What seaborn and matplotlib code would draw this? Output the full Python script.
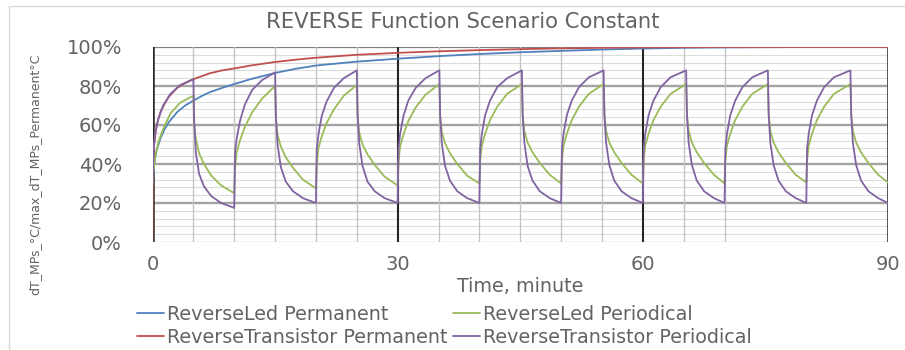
import matplotlib
matplotlib.use("Agg")
import matplotlib.pyplot as plt
from matplotlib.lines import Line2D
from matplotlib.patches import Rectangle
import seaborn as sns

# ---------------------------------------------------------------- data
title = "REVERSE Function Scenario Constant"
x_label = "Time, minute"
y_label = "dT_MPs_°C/max_dT_MPs_Permanent°C"

x_ticks = [0, 30, 60, 90]
x_tick_labels = ["0", "30", "60", "90"]
y_ticks = [0, 20, 40, 60, 80, 100]
y_tick_labels = ["0%", "20%", "40%", "60%", "80%", "100%"]

series_names = ["ReverseLed Permanent", "ReverseLed Periodical",
                "ReverseTransistor Permanent", "ReverseTransistor Periodical"]
series_colors = ["#4F81BD", "#9BBB59", "#C0504D", "#8064A2"]

# permanent (continuous) excitation
permanent_minutes = [0, 0.05, 0.2, 0.5, 1, 1.5, 2, 3, 4, 5, 6, 7, 8.5, 10, 12,
                     15, 17.5, 20, 25, 30, 35, 40, 45, 50, 55, 60, 65, 70, 80, 90]
led_permanent = [28, 32, 40, 47, 53.5, 58, 61.5, 66.5, 70, 72.5, 74.8, 76.8, 79,
                 81, 83.5, 86.7, 88.8, 90.5, 92.5, 94, 95.3, 96.4, 97.3, 98,
                 98.7, 99.2, 99.6, 99.8, 100, 100]
transistor_permanent = [0, 38, 50, 60, 67, 71, 74.5, 79, 81.5, 83.5, 85, 86.5,
                        88, 89, 90.5, 92.3, 93.5, 94.5, 96, 97, 97.8, 98.4,
                        98.9, 99.3, 99.6, 99.8, 99.9, 100, 100, 100]

# periodical excitation: 5 min on / 5 min off, sampled at the same offsets
half_cycle_starts = [0, 5, 10, 15, 20, 25, 30, 35.1, 40, 45.2, 50, 55.2,
                     60, 65.3, 70, 75.3, 80, 85.4]
sample_offsets = [0, 0.1, 0.3, 0.7, 1.3, 2.2, 3.4]
periodical_end = 90

led_periodical = [
    30, 36, 43, 51, 58, 66, 71.5,        # 0-5 on
    75, 60, 53, 45.5, 40, 34, 29,        # 5-10 off
    25, 38, 46, 52, 59, 66.5, 73.5,      # 10-15 on
    80, 63, 55, 49, 43.5, 38, 32,        # 15-20 off
    27.5, 40, 48, 54, 61, 68, 75,        # 20-25 on
    80.5, 64, 56, 50, 45, 39.5, 33.5,    # 25-30 off
    29, 41, 49, 55, 62, 69, 75.5,        # 30-35 on
    81, 64.5, 56.5, 50.5, 45.5, 40, 34,  # 35-40 off
    30, 42, 49.5, 55.5, 62.5, 69.5, 76,  # 40-45 on
    81, 65, 57, 51, 46, 40.5, 34.5,      # 45-50 off
    30, 42, 49.5, 55.5, 62.5, 69.5, 76,  # 50-55 on
    81, 65, 57, 51, 46, 40.5, 34.5,      # 55-60 off
    30, 42, 49.5, 55.5, 62.5, 69.5, 76,  # 60-65 on
    81, 65, 57, 51, 46, 40.5, 34.5,      # 65-70 off
    30, 42, 49.5, 55.5, 62.5, 69.5, 76,  # 70-75 on
    81, 65, 57, 51, 46, 40.5, 34.5,      # 75-80 off
    30.5, 42, 49.5, 55.5, 62.5, 69.5, 76,  # 80-85 on
    81, 65, 57, 51, 46, 40.5, 34.5,      # 85-90 off
    30.5,
]
transistor_periodical = [
    30, 45, 55, 63, 70, 76, 80.5,        # 0-5 on
    83.5, 62, 46, 35, 28.5, 23.5, 20,    # 5-10 off
    17.5, 46, 53, 62, 70.5, 78, 83,      # 10-15 on
    87, 64, 50, 38.5, 31, 26, 22.5,      # 15-20 off
    20, 47.5, 55, 64.5, 72, 79, 84,      # 20-25 on
    88, 65, 50.5, 39, 31, 26, 22.5,      # 25-30 off
    20, 48, 55.5, 64.5, 72.5, 79, 84,    # 30-35 on
    88, 65, 50.5, 39, 31.5, 26, 22.5,    # 35-40 off
    20, 48, 55.5, 65, 72.5, 79.5, 84,    # 40-45 on
    88, 65, 51, 39, 31.5, 26, 22.5,      # 45-50 off
    20, 48, 55.5, 65, 72.5, 79.5, 84.5,  # 50-55 on
    88, 65.5, 51, 39.5, 31.5, 26, 22.5,  # 55-60 off
    20, 48, 55.5, 65, 72.5, 79.5, 84.5,  # 60-65 on
    88, 65.5, 51, 39.5, 31.5, 26, 22.5,  # 65-70 off
    20, 48, 55.5, 65, 72.5, 79.5, 84.5,  # 70-75 on
    88, 65.5, 51, 39.5, 31.5, 26, 22.5,  # 75-80 off
    20, 48, 55.5, 65, 72.5, 79.5, 84.5,  # 80-85 on
    88, 65.5, 51, 39.5, 31.5, 26, 22.5,  # 85-90 off
    20,
]

# grid layout of the plot area
minor_minutes = [5, 10, 15, 20, 25, 35, 40, 45, 50, 55, 65, 70]
dark_minutes = [0, 30, 60]
minor_percent = [p for p in range(4, 100, 4) if p % 20]
major_percent = [20, 40, 60, 80]

# ---------------------------------------------------------------- style
sns.set_theme(style="white")
plt.rcParams["font.family"] = ["DejaVu Sans"]
text_color = "#636363"

W, H = 905, 350
fig = plt.figure(figsize=(W / 100, H / 100), dpi=100)
ax = fig.add_axes([152.5 / W, 108 / H, (888 - 152.5) / W, 195 / H])
ax.set_xlim(0, 90)
ax.set_ylim(0, 100)
for s in ax.spines.values():
    s.set_visible(False)

# grid
for p in minor_percent:
    ax.axhline(p, color="#dcdcdc", lw=0.8, zorder=0)
ax.axhline(0, color="#c8c8c8", lw=1.0, zorder=0)
for p in major_percent:
    ax.axhline(p, color="#a3a3a3", lw=1.7, zorder=1)
ax.axhline(100, color="#7f7f7f", lw=1.6, zorder=1)
for m in minor_minutes:
    ax.axvline(m, color="#c4c4c4", lw=1.0, zorder=1)
for m in dark_minutes:
    ax.axvline(m, color="#262626", lw=1.8 if m == 0 else 1.5, zorder=1)
ax.axvline(90, color="#555555", lw=1.4, zorder=1)

# periodical sample times
periodical_minutes = [s + o for s in half_cycle_starts for o in sample_offsets]
periodical_minutes.append(periodical_end)

draw_order = [
    (permanent_minutes, led_permanent),
    (periodical_minutes, led_periodical),
    (permanent_minutes, transistor_permanent),
    (periodical_minutes, transistor_periodical),
]
for (xs, ys), color in zip(draw_order, series_colors):
    sns.lineplot(x=xs, y=ys, ax=ax, color=color, lw=1.3, estimator=None,
                 sort=False, legend=False, zorder=3)

ax.set_xticks(x_ticks)
ax.set_xticklabels(x_tick_labels)
ax.set_yticks(y_ticks)
ax.set_yticklabels(y_tick_labels)
ax.tick_params(axis="x", length=0, pad=9.5, labelsize=14, labelcolor=text_color)
ax.tick_params(axis="y", length=0, pad=22, labelsize=14, labelcolor=text_color)
ax.set_xlabel("")
ax.set_ylabel("")

fig.text(463 / W, 1 - 22.5 / H, title, ha="center", va="center",
         fontsize=15.2, color=text_color)
fig.text(520 / W, 1 - 287 / H, x_label, ha="center", va="center",
         fontsize=13.8, color=text_color)
fig.text(35 / W, 1 - 174 / H, y_label, ha="center", va="center",
         rotation=90, fontsize=9, color=text_color)

# legend: two columns, permanent on the left, periodical on the right
handles = [Line2D([], [], color=series_colors[i], lw=1.3) for i in (0, 2, 1, 3)]
labels = [series_names[i] for i in (0, 2, 1, 3)]
fig.legend(handles, labels, ncol=2, loc="upper left",
           bbox_to_anchor=(137 / W, 1 - 305 / H), frameon=False, borderpad=0,
           handlelength=1.42, handletextpad=0.13, columnspacing=0.3,
           labelspacing=0.2, fontsize=13.8, labelcolor=text_color,
           borderaxespad=0)

# thin chart-area frame
fig.add_artist(Rectangle((9 / W, -0.05), 1.1, (1 - 6 / H) + 0.05,
                         transform=fig.transFigure, fill=False,
                         edgecolor="#d9d9d9", lw=1.0))

fig.savefig("out.png", dpi=100)
